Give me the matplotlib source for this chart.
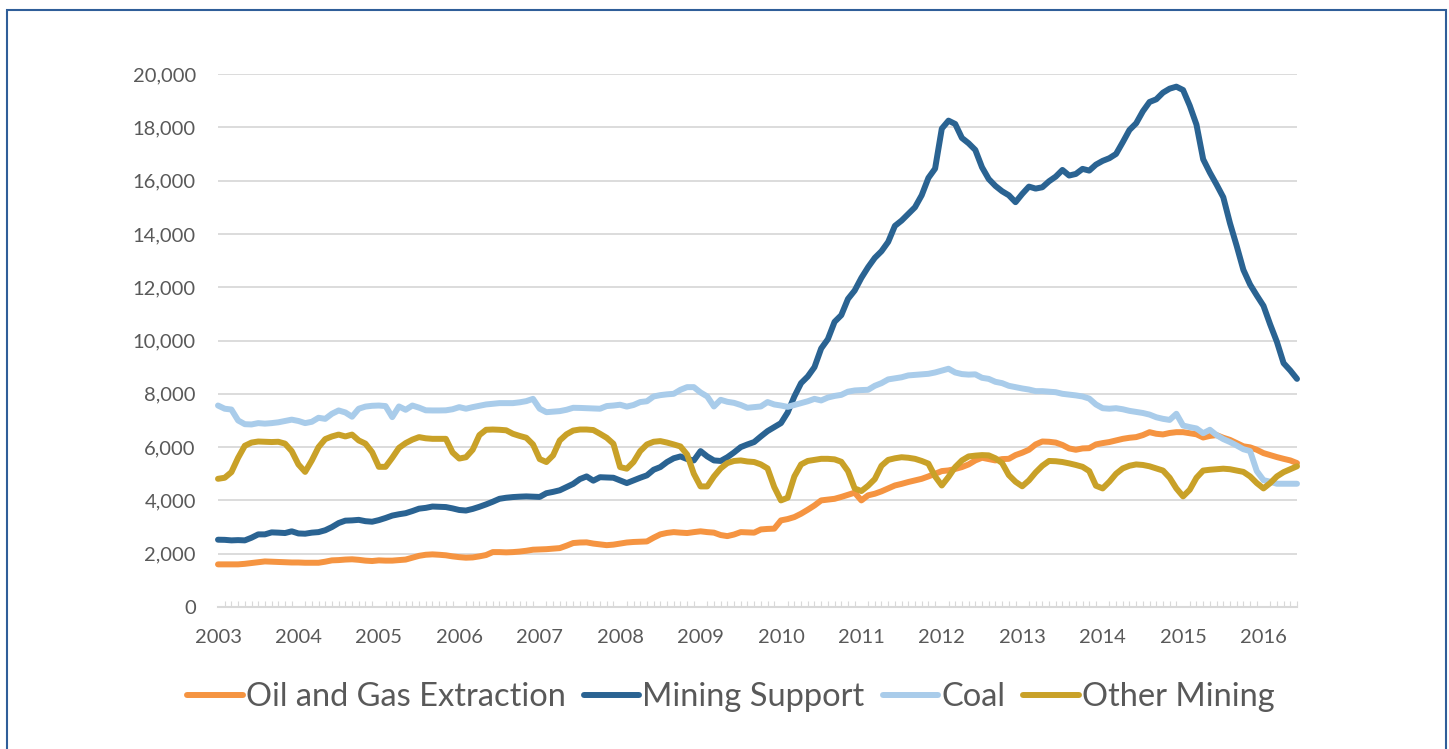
import matplotlib
matplotlib.use('Agg')
import matplotlib.pyplot as plt
from matplotlib.patches import Rectangle
from matplotlib.lines import Line2D
import pandas as pd

years = [str(y) for y in range(2003, 2017)]
series_names = ['Oil and Gas Extraction', 'Mining Support', 'Coal', 'Other Mining']
series_colors = ['#F59441', '#2A6392', '#A9CCEA', '#C9A128']

oil = [
    1600, 1600, 1600, 1600, 1620, 1650, 1680, 1710, 1700, 1690, 1680, 1670,
    1670, 1660, 1660, 1660, 1700, 1750, 1760, 1780, 1790, 1770, 1740, 1725,
    1750, 1740, 1740, 1760, 1780, 1850, 1920, 1960, 1975, 1960, 1940, 1900,
    1870, 1850, 1860, 1900, 1950, 2060, 2060, 2050, 2060, 2080, 2110, 2150,
    2160, 2170, 2190, 2210, 2300, 2400, 2420, 2425, 2380, 2350, 2320, 2340,
    2380, 2420, 2440, 2450, 2460, 2600, 2725, 2780, 2810, 2790, 2775, 2810,
    2840, 2810, 2790, 2700, 2660, 2720, 2810, 2800, 2790, 2910, 2930, 2940,
    3250, 3300, 3375, 3500, 3650, 3810, 4000, 4030, 4060, 4130, 4210, 4290,
    4000, 4190, 4250, 4340, 4450, 4560, 4620, 4690, 4750, 4810, 4900, 5000,
    5100, 5125, 5180, 5250, 5350, 5500, 5600, 5550, 5500, 5550, 5560, 5700,
    5790, 5900, 6100, 6210, 6200, 6170, 6080, 5950, 5900, 5950, 5960, 6100,
    6150, 6190, 6250, 6310, 6350, 6375, 6450, 6560, 6500, 6475, 6530, 6560,
    6560, 6520, 6480, 6360, 6420, 6450, 6350, 6270, 6150, 6030, 5990, 5900,
    5775, 5700, 5625, 5560, 5500, 5400]

support = [
    2525, 2520, 2500, 2510, 2500, 2600, 2725, 2725, 2800, 2790, 2775, 2840,
    2760, 2750, 2790, 2810, 2880, 3000, 3150, 3240, 3250, 3270, 3220, 3200,
    3260, 3340, 3430, 3480, 3520, 3600, 3690, 3720, 3770, 3760, 3750, 3700,
    3640, 3620, 3680, 3760, 3850, 3950, 4060, 4100, 4125, 4140, 4150, 4140,
    4130, 4270, 4320, 4380, 4500, 4620, 4800, 4900, 4740, 4870, 4860, 4850,
    4750, 4650, 4750, 4850, 4940, 5150, 5250, 5440, 5580, 5650, 5550, 5500,
    5850, 5650, 5500, 5480, 5620, 5800, 6000, 6100, 6190, 6400, 6600, 6750,
    6900, 7300, 7900, 8400, 8650, 9000, 9700, 10050, 10700, 10950, 11560, 11875,
    12350, 12750, 13100, 13350, 13700, 14300, 14500, 14750, 15000, 15450, 16100, 16450,
    17950, 18250, 18125, 17600, 17400, 17150, 16500, 16060, 15800, 15600, 15450, 15190,
    15500, 15775, 15700, 15750, 15975, 16150, 16400, 16190, 16250, 16440, 16375, 16600,
    16740, 16840, 17000, 17440, 17900, 18150, 18600, 18950, 19050, 19300, 19450, 19525,
    19400, 18810, 18100, 16800, 16300, 15850, 15375, 14400, 13550, 12650, 12100, 11690,
    11300, 10600, 9950, 9150, 8875, 8560]

coal = [
    7560, 7440, 7410, 7000, 6860, 6850, 6900, 6880, 6900, 6930, 6980, 7030,
    6980, 6900, 6950, 7100, 7060, 7250, 7375, 7300, 7140, 7440, 7520, 7550,
    7560, 7540, 7125, 7525, 7400, 7560, 7480, 7380, 7375, 7375, 7380, 7420,
    7500, 7440, 7500, 7550, 7600, 7625, 7650, 7650, 7650, 7680, 7725, 7810,
    7440, 7310, 7330, 7350, 7400, 7475, 7470, 7460, 7450, 7440, 7540, 7560,
    7590, 7520, 7580, 7690, 7720, 7900, 7950, 7980, 8000, 8150, 8250, 8250,
    8050, 7900, 7525, 7775, 7700, 7660, 7580, 7475, 7500, 7525, 7690, 7600,
    7560, 7510, 7580, 7650, 7720, 7810, 7750, 7860, 7920, 7960, 8080, 8125,
    8140, 8150, 8300, 8400, 8540, 8580, 8620, 8690, 8710, 8730, 8750, 8800,
    8870, 8940, 8800, 8740, 8720, 8730, 8600, 8560, 8450, 8400, 8300, 8250,
    8200, 8160, 8100, 8100, 8080, 8060, 8000, 7970, 7940, 7900, 7820, 7600,
    7460, 7440, 7460, 7420, 7360, 7320, 7280, 7220, 7120, 7060, 7020, 7250,
    6810, 6750, 6700, 6520, 6650, 6450, 6300, 6190, 6060, 5920, 5850, 5100,
    4760, 4700, 4625, 4625, 4625, 4625]

other = [
    4810, 4850, 5060, 5600, 6050, 6170, 6210, 6200, 6190, 6200, 6130, 5850,
    5350, 5070, 5500, 6000, 6300, 6400, 6470, 6400, 6470, 6250, 6130, 5810,
    5260, 5260, 5600, 5970, 6150, 6280, 6375, 6330, 6310, 6310, 6310, 5800,
    5570, 5620, 5900, 6450, 6650, 6660, 6650, 6630, 6500, 6420, 6350, 6100,
    5550, 5440, 5690, 6250, 6480, 6620, 6660, 6660, 6640, 6500, 6350, 6125,
    5250, 5190, 5440, 5850, 6100, 6200, 6225, 6170, 6100, 6025, 5720, 5000,
    4525, 4525, 4900, 5200, 5400, 5480, 5500, 5460, 5440, 5350, 5200, 4500,
    4000, 4100, 4900, 5350, 5480, 5520, 5560, 5560, 5540, 5450, 5100, 4450,
    4350, 4550, 4800, 5300, 5520, 5580, 5620, 5600, 5560, 5480, 5380, 4900,
    4560, 4880, 5250, 5500, 5650, 5680, 5700, 5690, 5580, 5400, 4950, 4700,
    4530, 4750, 5050, 5300, 5480, 5470, 5440, 5390, 5330, 5260, 5100, 4550,
    4450, 4700, 5000, 5200, 5300, 5350, 5330, 5280, 5200, 5120, 4850, 4450,
    4150, 4400, 4850, 5120, 5150, 5170, 5190, 5170, 5120, 5070, 4900, 4650,
    4450, 4650, 4900, 5060, 5170, 5280]

months = pd.date_range('2003-01-01', periods=len(oil), freq='MS')
pos = list(range(len(months)))
jan_pos = [i for i, m in enumerate(months) if m.month == 1]

plt.rcParams['font.family'] = ['Lato', 'DejaVu Sans']
text_color = '#595959'
grid_color = '#D9D9D9'

fig = plt.figure(figsize=(14.49, 7.49), dpi=100)
ax = fig.add_axes([218 / 1449, 1 - 607 / 749, (1297 - 218) / 1449, (607 - 74) / 749])

for vals, name, col in zip([oil, support, coal, other], series_names, series_colors):
    ax.plot(pos, vals, color=col, lw=4.3, label=name, solid_joinstyle='round',
            solid_capstyle='round', clip_on=False)

ax.set_xlim(pos[0], pos[-1])
ax.set_ylim(0, 20000)
ax.set_yticks(range(0, 20001, 2000))
ax.set_yticklabels([f'{v:,}' for v in range(0, 20001, 2000)])
ax.set_xticks(jan_pos)
ax.set_xticklabels(years)
ax.set_xticks(pos, minor=True)

ax.grid(axis='y', color=grid_color, lw=1.3)
ax.set_axisbelow(True)
for s in ['top', 'right', 'left']:
    ax.spines[s].set_visible(False)
ax.spines['bottom'].set_color(grid_color)
ax.spines['bottom'].set_linewidth(1.5)

ax.tick_params(axis='y', length=0, pad=16, labelsize=14.5, labelcolor=text_color)
ax.tick_params(axis='x', which='major', length=0, pad=16, labelsize=14.5, labelcolor=text_color)
ax.tick_params(axis='x', which='minor', length=4, width=0.8, direction='in', color=grid_color)

handles = [Line2D([0], [0], color=c, lw=4.3, solid_capstyle='round') for c in series_colors]
leg = fig.legend(handles, series_names, loc='center', bbox_to_anchor=(0.5045, 0.069), ncol=4,
                 frameon=False, fontsize=23.5, handlelength=1.7, handletextpad=0.1,
                 columnspacing=0.55)
for t in leg.get_texts():
    t.set_color(text_color)

fig.patches.append(Rectangle((7 / 1449, -0.05), (1446 - 7) / 1449, 1.05 - 10 / 749,
                             transform=fig.transFigure, fill=False, edgecolor='#2F5E99', lw=1.5))

fig.savefig('out.png', dpi=100, facecolor='white')
